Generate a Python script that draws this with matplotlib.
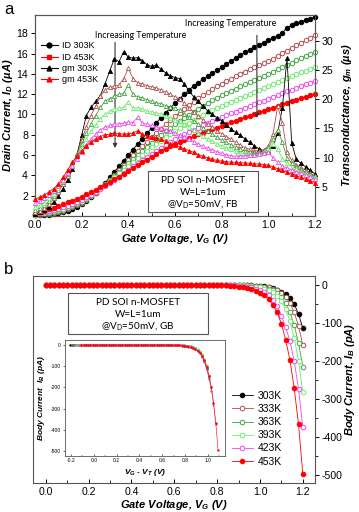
import numpy as np
import matplotlib
matplotlib.use('Agg')
import matplotlib.pyplot as plt
from matplotlib.patches import Rectangle
from matplotlib.lines import Line2D
from matplotlib.ticker import MultipleLocator

plt.rcParams['font.family'] = ['Liberation Sans', 'DejaVu Sans']
plt.rcParams['axes.unicode_minus'] = False
plt.rcParams['mathtext.fontset'] = 'custom'
plt.rcParams['mathtext.it'] = 'Liberation Sans:italic:bold'
plt.rcParams['mathtext.rm'] = 'Lato'
plt.rcParams['mathtext.bf'] = 'Liberation Sans:bold'

# ---------------- data ----------------
VG = [0.00, 0.02, 0.04, 0.06, 0.08, 0.10, 0.12, 0.14, 0.16, 0.18,
      0.20, 0.22, 0.24, 0.26, 0.28, 0.30, 0.32, 0.34, 0.36, 0.38,
      0.40, 0.42, 0.44, 0.46, 0.48, 0.50, 0.52, 0.54, 0.56, 0.58,
      0.60, 0.62, 0.64, 0.66, 0.68, 0.70, 0.72, 0.74, 0.76, 0.78,
      0.80, 0.82, 0.84, 0.86, 0.88, 0.90, 0.92, 0.94, 0.96, 0.98,
      1.00, 1.02, 1.04, 1.06, 1.08, 1.10, 1.12, 1.14, 1.16, 1.18, 1.20]

temps = ['303K', '333K', '363K', '393K', '423K', '453K']
colors = ['#000000', '#B04E4E', '#3FA43F', '#6CEB6C', '#EE48EE', '#FF0000']
filled = [True, False, False, False, False, True]

# Drain current (uA)
ID_303 = [0.05, 0.06, 0.08, 0.12, 0.18, 0.27, 0.38, 0.52, 0.70, 0.92,
          1.18, 1.50, 1.87, 2.28, 2.75, 3.25, 3.80, 4.35, 4.90, 5.45,
          6.00, 6.55, 7.10, 7.63, 8.15, 8.67, 9.18, 9.68, 10.17, 10.65,
          11.12, 11.57, 12.00, 12.42, 12.82, 13.15, 13.45, 13.75, 14.05, 14.35,
          14.65, 14.95, 15.25, 15.55, 15.85, 16.12, 16.38, 16.62, 16.85, 17.08,
          17.30, 17.52, 17.75, 18.05, 18.55, 18.80, 18.98, 19.15, 19.30, 19.45, 19.60]
ID_333 = [0.08, 0.11, 0.15, 0.21, 0.29, 0.39, 0.51, 0.66, 0.84, 1.06,
          1.31, 1.60, 1.93, 2.30, 2.70, 3.13, 3.58, 4.05, 4.53, 5.02,
          5.50, 5.97, 6.43, 6.88, 7.32, 7.76, 8.19, 8.61, 9.02, 9.42,
          9.81, 10.19, 10.56, 10.91, 11.25, 11.58, 11.89, 12.19, 12.48, 12.76,
          13.03, 13.29, 13.54, 13.78, 14.01, 14.23, 14.44, 14.64, 14.84, 15.04,
          15.25, 15.47, 15.75, 16.05, 16.30, 16.55, 16.80, 17.05, 17.30, 17.55, 17.80]
ID_363 = [0.11, 0.15, 0.20, 0.27, 0.36, 0.47, 0.60, 0.76, 0.95, 1.17,
          1.42, 1.70, 2.01, 2.35, 2.72, 3.11, 3.51, 3.93, 4.36, 4.79,
          5.22, 5.64, 6.05, 6.45, 6.84, 7.23, 7.61, 7.98, 8.34, 8.69,
          9.03, 9.36, 9.68, 9.99, 10.29, 10.58, 10.86, 11.13, 11.39, 11.64,
          11.88, 12.11, 12.33, 12.55, 12.76, 12.96, 13.16, 13.36, 13.56, 13.76,
          13.97, 14.20, 14.45, 14.68, 14.90, 15.12, 15.33, 15.54, 15.75, 15.95, 16.15]
ID_393 = [0.14, 0.20, 0.27, 0.35, 0.45, 0.57, 0.71, 0.88, 1.07, 1.29,
          1.53, 1.80, 2.09, 2.40, 2.73, 3.08, 3.44, 3.81, 4.19, 4.57,
          4.95, 5.32, 5.69, 6.05, 6.40, 6.75, 7.09, 7.42, 7.74, 8.05,
          8.35, 8.64, 8.92, 9.19, 9.45, 9.71, 9.96, 10.20, 10.43, 10.65,
          10.86, 11.06, 11.26, 11.45, 11.64, 11.83, 12.02, 12.21, 12.40, 12.59,
          12.78, 12.98, 13.18, 13.38, 13.58, 13.77, 13.96, 14.15, 14.33, 14.51, 14.69]
ID_423 = [0.17, 0.26, 0.36, 0.47, 0.59, 0.72, 0.87, 1.03, 1.20, 1.39,
          1.60, 1.83, 2.08, 2.35, 2.63, 2.93, 3.24, 3.56, 3.89, 4.22,
          4.55, 4.88, 5.20, 5.52, 5.83, 6.14, 6.44, 6.73, 7.01, 7.28,
          7.54, 7.79, 8.03, 8.26, 8.49, 8.71, 8.93, 9.14, 9.34, 9.54,
          9.73, 9.92, 10.11, 10.29, 10.47, 10.65, 10.83, 11.01, 11.19, 11.37,
          11.55, 11.73, 11.91, 12.09, 12.27, 12.45, 12.63, 12.80, 12.97, 13.14, 13.31]
ID_453 = [0.20, 0.35, 0.50, 0.66, 0.82, 0.99, 1.16, 1.34, 1.52, 1.72,
          1.92, 2.13, 2.35, 2.58, 2.82, 3.07, 3.33, 3.60, 3.88, 4.16,
          4.44, 4.72, 5.00, 5.28, 5.56, 5.83, 6.10, 6.36, 6.62, 6.87,
          7.06, 7.25, 7.45, 7.65, 7.85, 8.03, 8.20, 8.37, 8.54, 8.71,
          8.88, 9.05, 9.22, 9.39, 9.56, 9.72, 9.88, 10.04, 10.20, 10.36,
          10.52, 10.68, 10.84, 11.00, 11.16, 11.32, 11.47, 11.62, 11.77, 11.91, 12.05]

# Transconductance (uS)
GM_303 = [0.3, 0.6, 1.0, 1.6, 2.4, 3.4, 4.7, 6.2, 8.0, 10.6,
          13.8, 17.2, 18.6, 19.6, 20.6, 22.6, 24.8, 26.9, 26.4, 28.1,
          27.2, 27.0, 27.1, 26.6, 25.9, 25.6, 25.8, 25.1, 24.5, 24.0,
          23.7, 23.5, 22.6, 21.4, 20.4, 19.6, 18.8, 18.0, 17.4, 16.8,
          16.3, 15.6, 14.9, 14.3, 13.8, 13.2, 12.6, 12.0, 11.5, 11.2,
          11.2, 12.0, 14.2, 18.5, 27.0, 12.5, 9.7, 9.0, 8.4, 7.8, 7.2]
GM_333 = [0.6, 0.9, 1.4, 2.1, 3.0, 4.1, 5.4, 6.9, 8.6, 10.6,
          13.0, 15.3, 17.2, 18.8, 20.5, 21.6, 22.0, 22.2, 22.4, 23.5,
          25.3, 23.5, 22.8, 22.6, 22.3, 22.1, 21.9, 21.6, 21.2, 20.8,
          20.4, 20.0, 19.3, 18.5, 17.8, 17.1, 16.4, 15.8, 15.2, 14.6,
          14.1, 13.6, 13.1, 12.6, 12.1, 11.7, 11.4, 11.2, 11.1, 11.3,
          12.0, 14.0, 18.8, 16.0, 11.0, 9.5, 8.8, 8.3, 7.8, 7.3, 6.9]
GM_363 = [1.0, 1.3, 1.8, 2.5, 3.4, 4.5, 5.8, 7.2, 8.7, 10.4,
          12.3, 14.2, 15.8, 17.2, 18.6, 19.6, 20.1, 20.5, 20.8, 21.0,
          22.5, 20.8, 20.4, 20.2, 19.9, 19.6, 19.4, 19.2, 18.9, 18.6,
          18.4, 18.1, 17.5, 16.9, 16.3, 15.7, 15.1, 14.5, 14.0, 13.5,
          13.0, 12.6, 12.2, 11.8, 11.4, 11.1, 10.9, 10.8, 10.8, 11.0,
          11.6, 13.2, 14.8, 12.6, 10.0, 9.0, 8.4, 7.9, 7.5, 7.1, 6.7]
GM_393 = [1.5, 1.8, 2.3, 3.0, 3.8, 4.8, 6.0, 7.3, 8.7, 10.2,
          11.7, 13.2, 14.5, 15.6, 16.6, 17.4, 17.9, 18.3, 18.4, 18.6,
          19.5, 18.5, 18.5, 18.3, 18.0, 17.8, 17.6, 17.4, 17.1, 16.8,
          16.5, 16.2, 15.7, 15.2, 14.7, 14.2, 13.7, 13.2, 12.8, 12.4,
          12.0, 11.7, 11.4, 11.1, 10.8, 10.6, 10.5, 10.5, 10.6, 10.9,
          11.5, 12.4, 11.5, 9.8, 9.0, 8.4, 8.0, 7.6, 7.2, 6.9, 6.6]
GM_423 = [2.2, 2.5, 3.0, 3.6, 4.3, 5.2, 6.2, 7.3, 8.5, 9.8,
          11.0, 12.2, 13.2, 14.0, 14.7, 15.2, 15.5, 15.7, 15.8, 15.9,
          16.1, 16.0, 16.9, 15.9, 15.7, 15.5, 15.3, 15.1, 14.8, 14.5,
          14.2, 13.9, 13.5, 13.1, 12.7, 12.3, 11.9, 11.6, 11.3, 11.0,
          10.7, 10.5, 10.3, 10.2, 10.2, 10.3, 10.4, 10.5, 10.6, 10.8,
          10.9, 10.0, 9.2, 8.6, 8.2, 7.9, 7.6, 7.3, 7.0, 6.6, 6.3]
GM_453 = [2.9, 3.2, 3.6, 4.1, 4.7, 5.5, 6.6, 7.9, 9.2, 10.3,
          11.2, 12.0, 12.7, 13.2, 13.6, 13.9, 14.0, 14.2, 14.1, 14.0,
          14.1, 14.2, 14.6, 14.0, 13.7, 13.5, 13.3, 13.1, 12.8, 12.4,
          12.1, 11.8, 11.5, 11.2, 10.9, 10.5, 10.2, 10.0, 9.7, 9.5,
          9.4, 9.3, 9.2, 9.2, 9.1, 9.1, 9.0, 8.9, 8.9, 8.8,
          8.7, 8.4, 8.1, 7.8, 7.5, 7.2, 6.9, 6.6, 6.3, 6.0, 5.7]

# Body current (pA)
IB_303 = [0, 0, 0, 0, 0, 0, 0, 0, 0, 0,
          0, 0, 0, 0, 0, 0, 0, 0, 0, 0,
          0, 0, 0, 0, 0, 0, 0, 0, 0, 0,
          0, 0, 0, 0, 0, 0, 0, 0, 0, 0,
          0, 0, 0, 0, 0, 0, -0.3, -0.5, -0.8, -1.2,
          -2, -3, -5, -8, -12, -17, -24, -34, -50, -76, -113]
IB_333 = [0, 0, 0, 0, 0, 0, 0, 0, 0, 0,
          0, 0, 0, 0, 0, 0, 0, 0, 0, 0,
          0, 0, 0, 0, 0, 0, 0, 0, 0, 0,
          0, 0, 0, 0, 0, 0, 0, 0, 0, 0,
          0, 0, 0, 0, 0, -0.3, -0.5, -0.8, -1, -1.5,
          -2.5, -4, -6, -9, -14, -21, -32, -48, -72, -108, -158]
IB_363 = [0, 0, 0, 0, 0, 0, 0, 0, 0, 0,
          0, 0, 0, 0, 0, 0, 0, 0, 0, 0,
          0, 0, 0, 0, 0, 0, 0, 0, 0, 0,
          0, 0, 0, 0, 0, 0, 0, 0, 0, 0,
          0, 0, 0, 0, -0.3, -0.5, -0.8, -1, -1.5, -2.5,
          -4, -6, -9, -14, -21, -32, -48, -72, -105, -152, -215]
IB_393 = [0, 0, 0, 0, 0, 0, 0, 0, 0, 0,
          0, 0, 0, 0, 0, 0, 0, 0, 0, 0,
          0, 0, 0, 0, 0, 0, 0, 0, 0, 0,
          0, 0, 0, 0, 0, 0, 0, 0, 0, 0,
          0, 0, 0, -0.3, -0.5, -0.8, -1, -1.5, -2.5, -4,
          -6, -9, -13, -19, -29, -43, -64, -95, -140, -200, -282]
IB_423 = [0, 0, 0, 0, 0, 0, 0, 0, 0, 0,
          0, 0, 0, 0, 0, 0, 0, 0, 0, 0,
          0, 0, 0, 0, 0, 0, 0, 0, 0, 0,
          0, 0, 0, 0, 0, 0, 0, 0, 0, 0,
          0, -0.3, -0.5, -0.8, -1, -1.5, -2.5, -4, -6, -9,
          -13, -18, -26, -38, -55, -80, -110, -148, -200, -273, -373]
IB_453 = [0, 0, 0, 0, 0, 0, 0, 0, 0, 0,
          0, 0, 0, 0, 0, 0, 0, 0, 0, 0,
          0, 0, 0, 0, 0, 0, 0, 0, 0, 0,
          0, 0, 0, 0, 0, 0, 0, 0, 0, 0,
          -0.5, -0.8, -1, -1.5, -2.5, -4, -6, -8, -11, -15,
          -20, -27, -37, -52, -72, -102, -145, -197, -272, -366, -497]

# threshold voltages used for the inset (V)
VT = [0.21, 0.19, 0.17, 0.15, 0.13, 0.11]

ID_all = [ID_303, ID_333, ID_363, ID_393, ID_423, ID_453]
GM_all = [GM_303, GM_333, GM_363, GM_393, GM_423, GM_453]
IB_all = [IB_303, IB_333, IB_363, IB_393, IB_423, IB_453]

# ---------------- figure ----------------
W, H = 359, 512
fig = plt.figure(figsize=(W / 100, H / 100), dpi=100)

def frac(l, t, r, b):
    return [l / W, 1 - b / H, (r - l) / W, (b - t) / H]

tick_fs = 7.6
lab_fs = 8.0

# ===== panel a =====
ax = fig.add_axes(frac(35, 15, 315, 216))
ax2 = ax.twinx()
for i in range(6):
    c = colors[i]
    mfc = c if filled[i] else 'white'
    ax.plot(VG, ID_all[i], marker='o', ms=3.2, mfc=mfc, mec=c, mew=0.7,
            color=c, lw=0.6, clip_on=False, zorder=3 + i * 0.1)
    ax2.plot(VG, GM_all[i], marker='^', ms=3.0, mfc=mfc, mec=c, mew=0.6,
             color=c, lw=0.6, clip_on=False, zorder=3 + i * 0.1)

ax.set_xlim(0, 1.2)
ax.set_ylim(0, 19.8)
ax2.set_ylim(0, 34.4)
ax.set_xticks([0.0, 0.2, 0.4, 0.6, 0.8, 1.0, 1.2])
ax.set_xticklabels(['0.0', '0.2', '0.4', '0.6', '0.8', '1.0', '1.2'])
ax.xaxis.set_minor_locator(MultipleLocator(0.1))
ax.set_yticks([2, 4, 6, 8, 10, 12, 14, 16, 18])
ax2.set_yticks([5, 10, 15, 20, 25, 30])
ax.tick_params(axis='x', direction='in', length=3, labelsize=tick_fs, pad=3, width=0.7)
ax.tick_params(axis='x', which='minor', direction='in', length=2, width=0.6)
ax.tick_params(axis='y', direction='out', length=3, labelsize=tick_fs, pad=2, width=0.7)
ax2.tick_params(axis='y', direction='out', length=3, labelsize=tick_fs, pad=2, width=0.7)
for a in (ax, ax2):
    for s in a.spines.values():
        s.set_color('#555555')
        s.set_linewidth(0.8)

ax.set_xlabel('Gate Voltage, $V_G$ (V)', fontsize=lab_fs, fontweight='bold',
              style='italic')
ax.xaxis.set_label_coords(0.5, -0.08)
ax.set_ylabel('Drain Current, $I_D$ (µA)', fontsize=lab_fs, fontweight='bold',
              style='italic')
ax.yaxis.set_label_coords(-0.072, 0.5)
ax2.set_ylabel('Transconductance, $g_m$ (µs)', fontsize=lab_fs, fontweight='bold',
               style='italic', rotation=90)
ax2.yaxis.set_label_coords(1.088, 0.5)

# legend
handles = [
    Line2D([], [], color='black', marker='o', ms=3.5, lw=0.8),
    Line2D([], [], color='red', marker='s', ms=3.0, lw=0.8),
    Line2D([], [], color='black', marker='^', ms=3.5, lw=0.8),
    Line2D([], [], color='red', marker='^', ms=3.5, lw=0.8),
]
ax2.legend(handles, ['ID 303K', 'ID 453K', 'gm 303K', 'gm 453K'],
           loc='upper left', bbox_to_anchor=(0.0, 0.9), frameon=False,
           fontsize=6.5, handlelength=1.8, labelspacing=0.25, handletextpad=0.5,
           borderaxespad=0.3)

# arrows and annotations
ax.annotate('', xy=(0.343, 6.7), xytext=(0.343, 17.1),
            arrowprops=dict(arrowstyle='-|>', color='#333333', lw=0.8,
                            mutation_scale=6, shrinkA=0, shrinkB=0), zorder=6)
ax.text(0.454, 17.75, 'Increasing Temperature', fontsize=6.3, family='Lato',
        ha='center', va='center', zorder=7)
ax.annotate('', xy=(0.951, 9.65), xytext=(0.951, 17.8),
            arrowprops=dict(arrowstyle='-|>', color='#333333', lw=0.8,
                            mutation_scale=6, shrinkA=0, shrinkB=0), zorder=6)
ax.text(0.84, 19.0, 'Increasing Temperature', fontsize=6.3, family='Lato',
        ha='center', va='center', zorder=7)

# text box a
ax2.add_patch(Rectangle((0.404, 0.02), 0.392, 0.204, transform=ax2.transAxes,
                        facecolor='white', edgecolor='#555555', lw=0.8, zorder=10))
for yy, s in [(0.179, 'PD SOI n-MOSFET'), (0.119, 'W=L=1um'),
              (0.055, r'@V$_\mathrm{D}$=50mV, FB')]:
    ax2.text(0.60, yy, s, transform=ax2.transAxes, fontsize=7.2, family='Lato',
             ha='center', va='center', zorder=11)

fig.text(4 / W, 1 - 9 / H, 'a', fontsize=12, va='center', ha='left')
fig.text(4 / W, 1 - 269 / H, 'b', fontsize=12, va='center', ha='left')

# ===== panel b =====
bx = fig.add_axes(frac(33, 276, 315, 483))
for i in range(6):
    c = colors[i]
    mfc = c if filled[i] else 'white'
    bx.plot(VG, IB_all[i], marker='o', ms=3.3, mfc=mfc, mec=c, mew=0.7,
            color=c, lw=0.6, label=temps[i], zorder=3 + i * 0.1)
bx.set_xlim(-0.06, 1.257)
bx.set_ylim(-521, 24)
bx.yaxis.tick_right()
bx.yaxis.set_label_position('right')
bx.set_yticks([0, -100, -200, -300, -400, -500])
bx.yaxis.set_minor_locator(MultipleLocator(50))
bx.set_xticks([0.0, 0.2, 0.4, 0.6, 0.8, 1.0, 1.2])
bx.set_xticklabels(['0.0', '0.2', '0.4', '0.6', '0.8', '1.0', '1.2'])
bx.xaxis.set_minor_locator(MultipleLocator(0.1))
bx.tick_params(axis='x', direction='in', length=3, labelsize=tick_fs, pad=3, width=0.7)
bx.tick_params(axis='x', which='minor', direction='in', length=2, width=0.6)
bx.tick_params(axis='y', direction='out', length=3, labelsize=tick_fs, pad=2, width=0.7)
bx.tick_params(axis='y', which='minor', direction='out', length=2, width=0.6)
for s in bx.spines.values():
    s.set_color('#555555')
    s.set_linewidth(0.8)
bx.set_xlabel('Gate Voltage, $V_G$ (V)', fontsize=lab_fs, fontweight='bold',
              style='italic')
bx.xaxis.set_label_coords(0.5, -0.074)
bx.set_ylabel('Body Current, $I_B$ (pA)', fontsize=lab_fs, fontweight='bold',
              style='italic')
bx.yaxis.set_label_coords(1.10, 0.5)
bx.legend(loc='upper left', bbox_to_anchor=(0.69, 0.465), frameon=False,
          fontsize=7.5, handlelength=2.0, labelspacing=0.3, handletextpad=0.5,
          borderaxespad=0.0)

bx.add_patch(Rectangle((0.124, 0.72), 0.497, 0.198, transform=bx.transAxes,
                       facecolor='white', edgecolor='#555555', lw=0.8, zorder=10))
for yy, s in [(0.870, 'PD SOI n-MOSFET'), (0.812, 'W=L=1um'),
              (0.756, r'@V$_\mathrm{D}$=50mV, GB')]:
    bx.text(0.372, yy, s, transform=bx.transAxes, fontsize=7.2, family='Lato',
            ha='center', va='center', zorder=11)

# inset
ix = fig.add_axes(frac(65, 340, 225, 456))
for i in range(6):
    c = colors[i]
    xs = np.array(VG) - VT[i]
    ix.plot(xs, IB_all[i], marker='o', ms=1.3, mfc=c, mec=c, mew=0.3,
            color=c, lw=0.4)
ix.set_xlim(-0.253, 1.151)
ix.set_ylim(-524, 24)
ix.set_xticks([-0.2, 0.0, 0.2, 0.4, 0.6, 0.8, 1.0])
ix.set_xticklabels(['-0.2', '0.0', '0.2', '0.4', '0.6', '0.8', '1.0'])
ix.set_yticks([0, -100, -200, -300, -400, -500])
ix.xaxis.set_minor_locator(MultipleLocator(0.1))
ix.tick_params(axis='both', labelsize=3.6, length=1.5, width=0.4, pad=1.5)
ix.tick_params(axis='x', direction='in')
ix.tick_params(axis='x', which='minor', direction='in', length=1, width=0.3)
ix.tick_params(axis='y', direction='out')
for s in ix.spines.values():
    s.set_color('#555555')
    s.set_linewidth(0.6)
ix.set_xlabel('$V_G$ - $V_T$ (V)', fontsize=6, fontweight='bold', style='italic')
ix.xaxis.set_label_coords(0.5, -0.095)
ix.set_ylabel('Body Current  $I_B$ (pA)', fontsize=6, fontweight='bold',
              style='italic')
ix.yaxis.set_label_coords(-0.115, 0.5)

fig.savefig('out.png', dpi=100)
